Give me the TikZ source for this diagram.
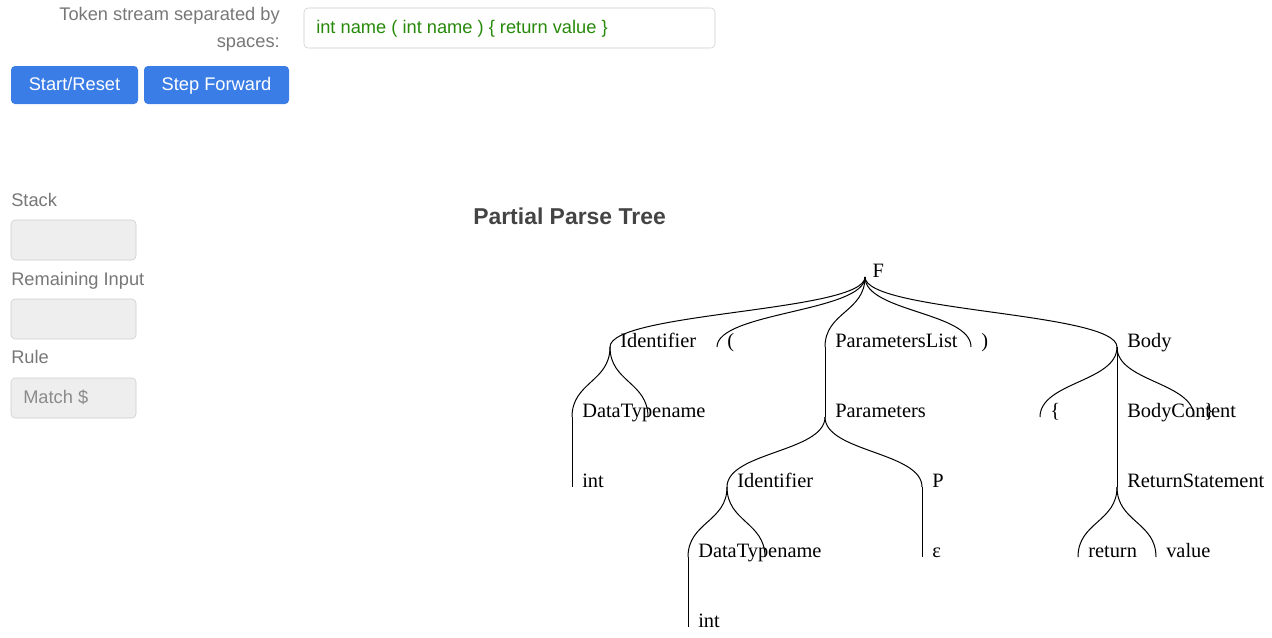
\documentclass[tikz,border=0pt]{standalone}
\usepackage{fontspec}
\setmainfont{Liberation Serif}
\newfontfamily\uifont{Liberation Sans}
\usetikzlibrary{calc}

\definecolor{btnblue}{RGB}{59,125,230}
\definecolor{tokgreen}{RGB}{40,138,10}
\definecolor{uigray}{RGB}{119,119,119}
\definecolor{boxgray}{RGB}{238,238,238}
\definecolor{linegray}{RGB}{204,204,204}
\definecolor{titlegray}{RGB}{68,68,68}

\begin{document}
\begin{tikzpicture}[
  x=0.75pt, y=-0.75pt,
  lbl/.style={anchor=base west, inner sep=0pt, xshift=7.5pt, font=\fontsize{15.3}{18}\selectfont},
  branch/.style={line width=0.75pt, to path={.. controls ($(\tikztostart)+(0,35)$) and ($(\tikztotarget)+(0,-35)$) .. (\tikztotarget)}},
  uitext/.style={text=uigray, inner sep=0pt, font=\uifont\fontsize{13.7}{16}\selectfont},
  button/.style={fill=btnblue, rounded corners=3pt, text=white, inner sep=0pt, minimum height=28.5pt, text height=10pt, text depth=2.5pt, font=\uifont\fontsize{13.7}{16}\selectfont},
  field/.style={draw=linegray, fill=boxgray, rounded corners=3pt, inner sep=0pt, minimum width=93.75pt, minimum height=30pt}
]
\useasboundingbox (0,0) rectangle (1272,637);

% --- Controls ---
\node[uitext, anchor=base east] (prompt1) at (280,20) {Token stream separated by};
\node[uitext, anchor=base east] (prompt2) at (280,47) {spaces:};
\node[field, fill=white, minimum width=308.25pt] (tokens) at (509.5,28) {};
\node[uitext, text=tokgreen, anchor=base west] (tokentext) at (316,33) {int name ( int name ) \{ return value \}};
\node[button, minimum width=95.25pt] (start) at (74.5,85) {Start/Reset};
\node[button, minimum width=108.75pt] (stepfwd) at (216.5,85) {Step Forward};

% --- Side panel ---
\node[uitext, anchor=base west] (stacklbl) at (11,206) {Stack};
\node[field] (stackbox) at (73.5,240) {};
\node[uitext, anchor=base west] (inputlbl) at (11,285) {Remaining Input};
\node[field] (inputbox) at (73.5,319) {};
\node[uitext, anchor=base west] (rulelbl) at (11,363) {Rule};
\node[field] (rulebox) at (73.5,398) {};
\node[uitext, text=uigray!85, anchor=base west] (ruletext) at (23,403) {Match \$};

% --- Title ---
\node[anchor=base west, inner sep=0pt, text=titlegray, font=\uifont\bfseries\fontsize{17.2}{20}\selectfont] (title) at (473,224) {Partial Parse Tree};

% --- Tree points ---
\coordinate (F) at (865,277);
\coordinate (id1) at (610,347);
\coordinate (lp) at (717,347);
\coordinate (plist) at (825,347);
\coordinate (rp) at (971,347);
\coordinate (body) at (1117,347);
\coordinate (dt1) at (572,417);
\coordinate (nm1) at (648,417);
\coordinate (params) at (825,417);
\coordinate (lb) at (1040,417);
\coordinate (bcont) at (1117,417);
\coordinate (rb) at (1194,417);
\coordinate (int1) at (572,487);
\coordinate (id2) at (727,487);
\coordinate (pp) at (922,487);
\coordinate (ret) at (1117,487);
\coordinate (dt2) at (688,557);
\coordinate (nm2) at (765,557);
\coordinate (eps) at (922,557);
\coordinate (rtn) at (1078,557);
\coordinate (val) at (1156,557);
\coordinate (int2) at (688,627);

% --- Tree labels ---
\node[lbl, xshift=-2pt] (tF) at (F) {F};
\node[lbl] (tid1) at (id1) {Identifier};
\node[lbl] (tlp) at (lp) {(};
\node[lbl] (tplist) at (plist) {ParametersList};
\node[lbl] (trp) at (rp) {)};
\node[lbl] (tbody) at (body) {Body};
\node[lbl] (tdt1) at (dt1) {DataTypename};
\node[lbl] (tparams) at (params) {Parameters};
\node[lbl] (tlb) at (lb) {\{};
\node[lbl] (tbcont) at (bcont) {BodyContent};
\node[lbl] (trb) at (rb) {\}};
\node[lbl] (tint1) at (int1) {int};
\node[lbl] (tid2) at (id2) {Identifier};
\node[lbl] (tpp) at (pp) {P};
\node[lbl] (tret) at (ret) {ReturnStatement};
\node[lbl] (tdt2) at (dt2) {DataTypename};
\node[lbl] (teps) at (eps) {ε};
\node[lbl] (trtn) at (rtn) {return};
\node[lbl] (tval) at (val) {value};
\node[lbl] (tint2) at (int2) {int};

% --- Links ---
\draw[branch] (F) to (id1);
\draw[branch] (F) to (lp);
\draw[branch] (F) to (plist);
\draw[branch] (F) to (rp);
\draw[branch] (F) to (body);
\draw[branch] (id1) to (dt1);
\draw[branch] (id1) to (nm1);
\draw[branch] (dt1) to (int1);
\draw[branch] (plist) to (params);
\draw[branch] (params) to (id2);
\draw[branch] (params) to (pp);
\draw[branch] (id2) to (dt2);
\draw[branch] (id2) to (nm2);
\draw[branch] (dt2) to (int2);
\draw[branch] (pp) to (eps);
\draw[branch] (body) to (lb);
\draw[branch] (body) to (bcont);
\draw[branch] (body) to (rb);
\draw[branch] (bcont) to (ret);
\draw[branch] (ret) to (rtn);
\draw[branch] (ret) to (val);

\end{tikzpicture}
\end{document}
